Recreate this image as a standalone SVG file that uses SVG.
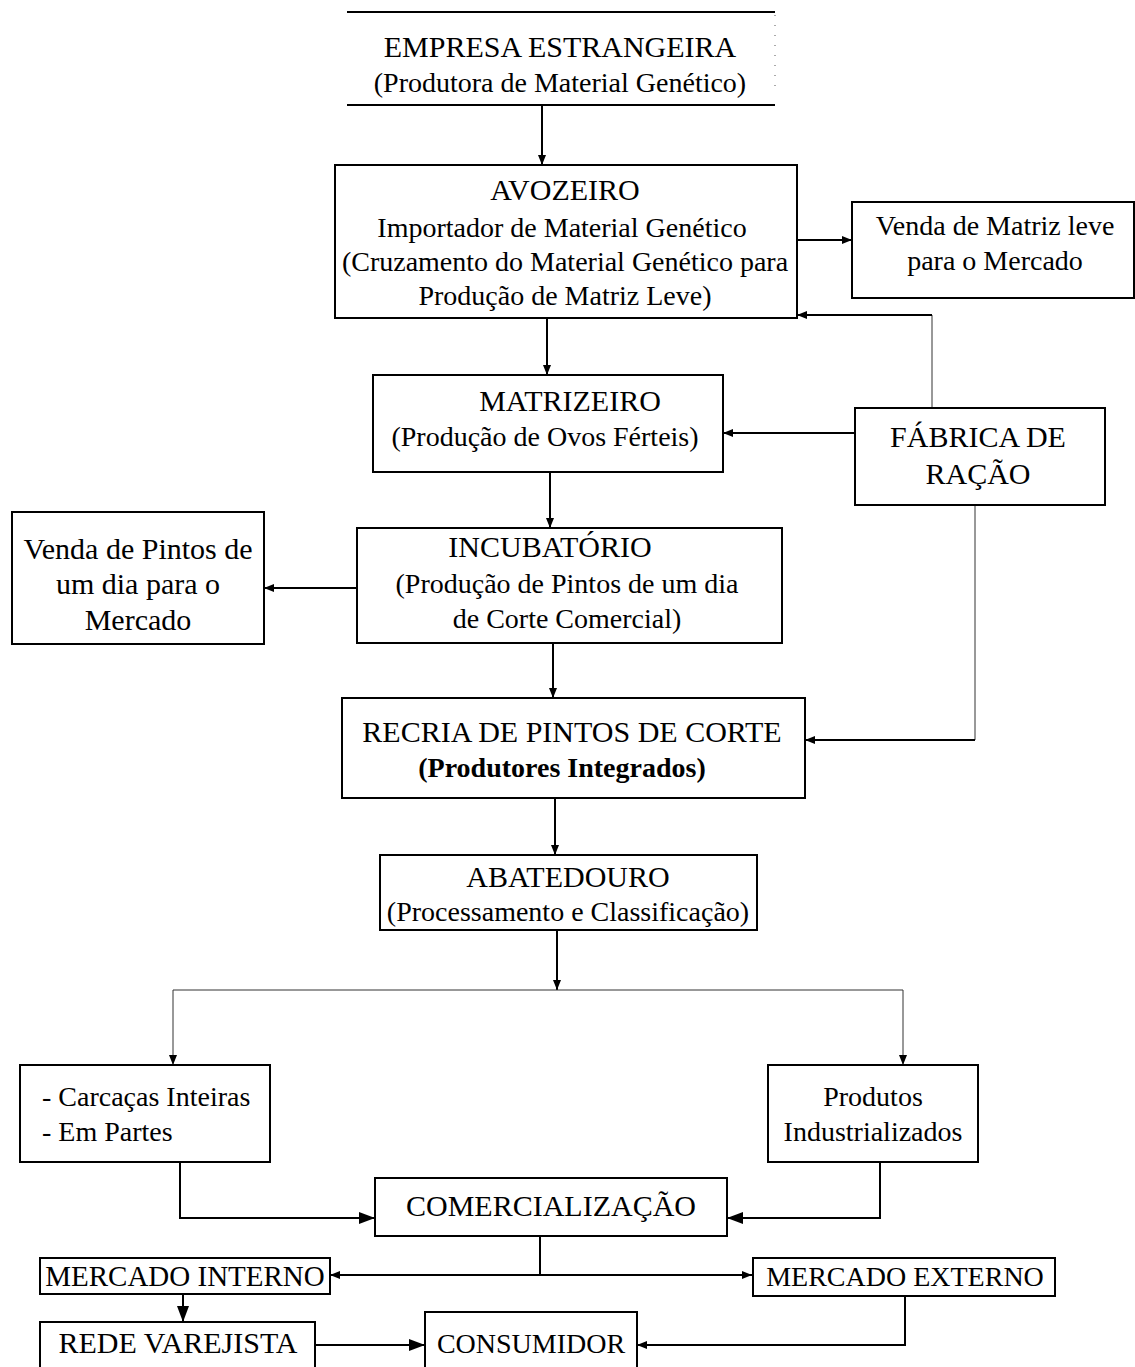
<svg xmlns="http://www.w3.org/2000/svg" width="1135" height="1367" viewBox="0 0 1135 1367">
<style>
text{font-family:"Liberation Serif","Times New Roman",serif;fill:#000;text-anchor:middle}
.t{font-size:30px}
.b{font-size:28px}
.bold{font-weight:bold}
.box{fill:#fff;stroke:#000;stroke-width:2}
.c{fill:none;stroke:#000;stroke-width:2}
.thin{fill:none;stroke:#333;stroke-width:1}
</style>
<defs>
<marker id="a" viewBox="0 0 10 8" refX="10" refY="4" markerWidth="10" markerHeight="8" markerUnits="userSpaceOnUse" orient="auto"><path d="M0,0 L10,4 L0,8 z" fill="#000"/></marker>
<marker id="b" viewBox="0 0 16 12" refX="16" refY="6" markerWidth="16" markerHeight="12" markerUnits="userSpaceOnUse" orient="auto"><path d="M0,0 L16,6 L0,12 z" fill="#000"/></marker>
</defs>
<rect width="1135" height="1367" fill="#fff"/>
<g id="connectors">
<path class="c" d="M542,106 V165" marker-end="url(#a)"/>
<path class="c" d="M797,240 H852" marker-end="url(#a)"/>
<path class="thin" d="M932,408 V315"/>
<path class="c" d="M932,315 H797" marker-end="url(#a)"/>
<path class="c" d="M547,318 V375" marker-end="url(#a)"/>
<path class="c" d="M855,433 H723" marker-end="url(#a)"/>
<path class="c" d="M550,472 V528" marker-end="url(#a)"/>
<path class="c" d="M357,588 H264" marker-end="url(#a)"/>
<path class="c" d="M553,643 V698" marker-end="url(#a)"/>
<path class="thin" d="M975,505 V740"/>
<path class="c" d="M975,740 H805" marker-end="url(#a)"/>
<path class="c" d="M555,798 V855" marker-end="url(#a)"/>
<path class="c" d="M557,930 V990" marker-end="url(#a)"/>
<path class="thin" d="M173,990 H903"/>
<path class="thin" d="M173,990 V1065" marker-end="url(#a)"/>
<path class="thin" d="M903,990 V1065" marker-end="url(#a)"/>
<path class="c" d="M180,1162 V1218 H375" marker-end="url(#b)"/>
<path class="c" d="M880,1162 V1218 H727" marker-end="url(#b)"/>
<path class="c" d="M540,1236 V1275"/>
<path class="c" d="M540,1275 H330" marker-end="url(#a)"/>
<path class="c" d="M540,1275 H752" marker-end="url(#a)"/>
<path class="c" d="M183,1294 V1322" marker-end="url(#b)"/>
<path class="c" d="M315,1345 H425" marker-end="url(#b)"/>
<path class="c" d="M905,1296 V1345 H637" marker-end="url(#a)"/>
</g>
<g id="empresa">
<path class="c" d="M347,12 H775 M347,105 H775"/>
<path d="M775,15 V95" stroke="#555" stroke-width="1" stroke-dasharray="1 9" fill="none"/>
<text class="t" x="560" y="57">EMPRESA ESTRANGEIRA</text>
<text class="b" x="560" y="92">(Produtora de Material Genético)</text>
</g>
<g id="avozeiro">
<rect class="box" x="335" y="165" width="462" height="153"/>
<text class="t" x="565" y="200">AVOZEIRO</text>
<text class="b" x="562" y="237">Importador de Material Genético</text>
<text class="b" x="565" y="271">(Cruzamento do Material Genético para</text>
<text class="b" x="565" y="305">Produção de Matriz Leve)</text>
</g>
<g id="venda-matriz">
<rect class="box" x="852" y="202" width="282" height="96"/>
<text class="b" x="995" y="235">Venda de Matriz leve</text>
<text class="b" x="995" y="270">para o Mercado</text>
</g>
<g id="fabrica">
<rect class="box" x="855" y="408" width="250" height="97"/>
<text class="t" x="978" y="447">FÁBRICA DE</text>
<text class="t" x="978" y="484">RAÇÃO</text>
</g>
<g id="matrizeiro">
<rect class="box" x="373" y="375" width="350" height="97"/>
<text class="t" x="570" y="411">MATRIZEIRO</text>
<text class="b" x="545" y="446">(Produção de Ovos Férteis)</text>
</g>
<g id="incubatorio">
<rect class="box" x="357" y="528" width="425" height="115"/>
<text class="t" x="550" y="557">INCUBATÓRIO</text>
<text class="b" x="567" y="593">(Produção de Pintos de um dia</text>
<text class="b" x="567" y="628">de Corte Comercial)</text>
</g>
<g id="venda-pintos">
<rect class="box" x="12" y="512" width="252" height="132"/>
<text class="t" x="138" y="559">Venda de Pintos de</text>
<text class="t" x="138" y="594">um dia para o</text>
<text class="t" x="138" y="630">Mercado</text>
</g>
<g id="recria">
<rect class="box" x="342" y="698" width="463" height="100"/>
<text class="t" x="572" y="742">RECRIA DE PINTOS DE CORTE</text>
<text class="b bold" x="562" y="777">(Produtores Integrados)</text>
</g>
<g id="abatedouro">
<rect class="box" x="380" y="855" width="377" height="75"/>
<text class="t" x="568" y="887">ABATEDOURO</text>
<text class="b" x="568" y="921">(Processamento e Classificação)</text>
</g>
<g id="carcacas">
<rect class="box" x="20" y="1065" width="250" height="97"/>
<text class="b" x="42" y="1106" style="text-anchor:start">- Carcaças Inteiras</text>
<text class="b" x="42" y="1141" style="text-anchor:start">- Em Partes</text>
</g>
<g id="produtos">
<rect class="box" x="768" y="1065" width="210" height="97"/>
<text class="b" x="873" y="1106">Produtos</text>
<text class="b" x="873" y="1141">Industrializados</text>
</g>
<g id="comercializacao">
<rect class="box" x="375" y="1178" width="352" height="58"/>
<text class="t" x="551" y="1216">COMERCIALIZAÇÃO</text>
</g>
<g id="mercado-interno">
<rect class="box" x="40" y="1258" width="290" height="36"/>
<text class="t" x="185" y="1286" style="font-size:29px">MERCADO INTERNO</text>
</g>
<g id="mercado-externo">
<rect class="box" x="753" y="1258" width="302" height="38"/>
<text class="b" x="905" y="1286">MERCADO EXTERNO</text>
</g>
<g id="rede-varejista">
<rect class="box" x="40" y="1322" width="275" height="55"/>
<text class="t" x="178" y="1353">REDE VAREJISTA</text>
</g>
<g id="consumidor">
<rect class="box" x="425" y="1312" width="212" height="65"/>
<text class="b" x="531" y="1353">CONSUMIDOR</text>
</g>
</svg>
